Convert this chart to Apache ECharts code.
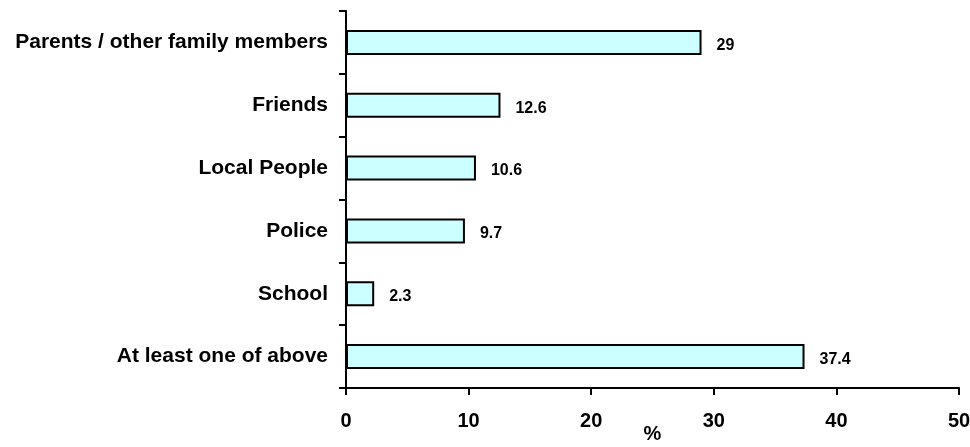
<!DOCTYPE html>
<html>
<head>
<meta charset="utf-8">
<script src="https://cdn.jsdelivr.net/npm/echarts@6/dist/echarts.min.js"></script>
<style>html,body{margin:0;padding:0;background:#fff}#c{width:970px;height:447px}</style>
</head>
<body>
<div id="c"></div>
<script>
const categories = ["Parents / other family members", "Friends", "Local People", "Police", "School", "At least one of above"];
const values = [29, 12.6, 10.6, 9.7, 2.3, 37.4];
const xTicks = [0, 10, 20, 30, 40, 50];
const xAxisName = "%";

const FONT = "'Liberation Sans', Arial, sans-serif";
const chart = echarts.init(document.getElementById('c'), null, {renderer: 'canvas'});
chart.setOption({
  animation: false,
  backgroundColor: '#ffffff',
  grid: {left: 346, right: 11, top: 11, bottom: 59, containLabel: false, outerBoundsMode: 'none'},
  xAxis: {
    type: 'value',
    min: xTicks[0], max: xTicks[xTicks.length - 1], interval: xTicks[1] - xTicks[0],
    name: xAxisName, nameLocation: 'middle', nameGap: 36, nameMoveOverlap: false,
    nameTextStyle: {fontFamily: FONT, fontWeight: 'bold', fontSize: 20, color: '#000'},
    axisLine: {show: true, lineStyle: {color: '#000', width: 2}},
    axisTick: {show: true, length: 7, lineStyle: {color: '#000', width: 2}},
    axisLabel: {fontFamily: FONT, fontWeight: 'bold', fontSize: 20, color: '#000', margin: 23},
    splitLine: {show: false}
  },
  yAxis: {
    type: 'category', data: categories, inverse: true,
    axisLine: {show: true, lineStyle: {color: '#000', width: 2}},
    axisTick: {show: true, length: 7, lineStyle: {color: '#000', width: 2}},
    axisLabel: {fontFamily: FONT, fontWeight: 'bold', fontSize: 21, color: '#000', margin: 18},
    splitLine: {show: false}
  },
  series: [{
    type: 'bar', data: values, barWidth: 25,
    itemStyle: {color: '#CCFFFF', borderColor: '#000', borderWidth: 2},
    label: {show: true, position: 'right', distance: 15, offset: [0, 3],
      fontFamily: FONT, fontWeight: 'bold', fontSize: 16, color: '#000'}
  }]
});
</script>
</body>
</html>
